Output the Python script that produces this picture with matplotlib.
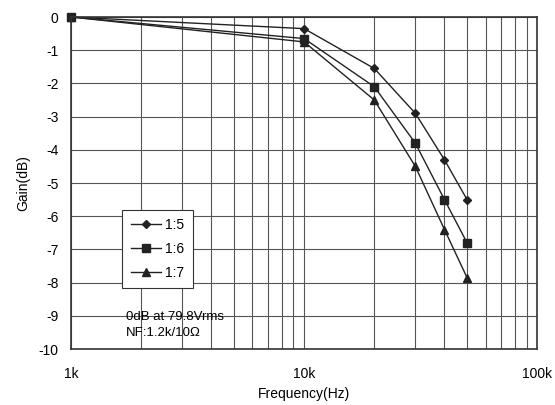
import matplotlib
matplotlib.use("Agg")
import matplotlib.pyplot as plt
from matplotlib.ticker import FixedLocator, FixedFormatter, LogLocator, NullFormatter

freq = [1000, 10000, 20000, 30000, 40000, 50000]
gain_15 = [0, -0.35, -1.55, -2.9, -4.3, -5.5]
gain_16 = [0, -0.65, -2.1, -3.8, -5.5, -6.8]
gain_17 = [0, -0.75, -2.5, -4.5, -6.4, -7.85]
labels = ["1:5", "1:6", "1:7"]
x_ticks = [1000, 10000, 100000]
x_ticklabels = ["1k", "10k", "100k"]
y_ticks = list(range(0, -11, -1))

plt.rcParams['font.family'] = ['Liberation Sans', 'DejaVu Sans']
fig = plt.figure(figsize=(5.55, 4.05), dpi=100)
ax = fig.add_axes([0.128, 0.138, 0.84, 0.82])

ax.plot(freq, gain_15, color='#222222', lw=1.0, marker='D', ms=4.5, label=labels[0], clip_on=False)
ax.plot(freq, gain_16, color='#222222', lw=1.0, marker='s', ms=6, label=labels[1], clip_on=False)
ax.plot(freq, gain_17, color='#222222', lw=1.0, marker='^', ms=6, label=labels[2], clip_on=False)

ax.set_xscale('log')
ax.set_xlim(1000, 100000)
ax.set_ylim(-10, 0)
ax.xaxis.set_major_locator(FixedLocator(x_ticks))
ax.xaxis.set_major_formatter(FixedFormatter(x_ticklabels))
ax.xaxis.set_minor_locator(LogLocator(base=10, subs=range(2, 10)))
ax.xaxis.set_minor_formatter(NullFormatter())
ax.set_yticks(y_ticks)
ax.set_yticklabels([str(v) for v in y_ticks])
ax.tick_params(axis='both', which='both', length=0, labelsize=10)
ax.tick_params(axis='x', pad=13)
ax.tick_params(axis='y', pad=9)
ax.grid(True, which='both', color='#555555', lw=0.8)
ax.set_axisbelow(True)
for s in ax.spines.values():
    s.set_color('#333333')
    s.set_linewidth(1.2)

ax.set_xlabel('Frequency(Hz)', fontsize=10, labelpad=4)
ax.set_ylabel('Gain(dB)', fontsize=10, labelpad=6)

leg = ax.legend(loc='upper left', bbox_to_anchor=(0.095, 0.44), fontsize=10,
                frameon=True, fancybox=False, edgecolor='#333333',
                handlelength=2.2, borderpad=0.6, labelspacing=0.7, handletextpad=0.3)
leg.get_frame().set_linewidth(0.8)
leg.get_frame().set_facecolor('white')
leg.get_frame().set_alpha(1)

ax.text(0.117, 0.03, '0dB at 79.8Vrms\nNF:1.2k/10\u03a9', transform=ax.transAxes,
        fontsize=9.5, va='bottom', ha='left', linespacing=1.5)

fig.savefig('out.png', dpi=100)
